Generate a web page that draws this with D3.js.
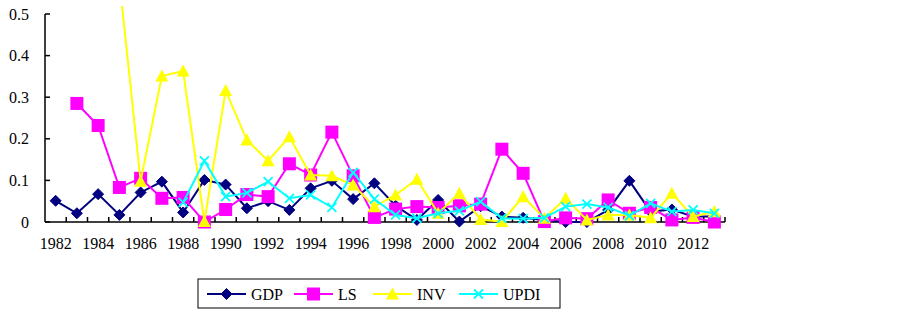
<!DOCTYPE html>
<html>
<head>
<meta charset="utf-8">
<script src="https://cdn.jsdelivr.net/npm/d3@7"></script>
<style>
  body { margin: 0; background: #fff; }
</style>
</head>
<body>
<div id="chart"></div>
<script>
// Years on the category axis
const years = d3.range(1982, 2014);

// Series values (null = no value that year)
const gdp = [0.051, 0.021, 0.067, 0.017, 0.071, 0.097, 0.023, 0.101, 0.090, 0.033,
             0.050, 0.029, 0.081, 0.099, 0.055, 0.093, 0.039, 0.005, 0.053, 0.001,
             0.038, 0.013, 0.010, 0.005, 0.000, 0.000, 0.029, 0.099, 0.025, 0.030,
             0.013, 0.013];
const ls = [null, 0.285, 0.232, 0.083, 0.105, 0.057, 0.059, 0.000, 0.030, 0.066,
            0.061, 0.140, 0.113, 0.216, 0.111, 0.011, 0.031, 0.037, 0.035, 0.039,
            0.043, 0.175, 0.117, 0.001, 0.010, 0.008, 0.053, 0.021, 0.035, 0.005,
            0.011, 0.000];
const inv = [null, null, null, 0.58, 0.098, 0.351, 0.363, 0.001, 0.316, 0.197,
             0.147, 0.205, 0.113, 0.111, 0.089, 0.037, 0.065, 0.103, 0.021, 0.069,
             0.006, 0.001, 0.061, 0.009, 0.057, 0.005, 0.017, 0.017, 0.010, 0.069,
             0.013, 0.025];
const updi = [null, null, null, null, null, null, 0.047, 0.147, 0.061, 0.070,
              0.097, 0.057, 0.065, 0.035, 0.119, 0.055, 0.017, 0.009, 0.021, 0.027,
              0.049, 0.009, 0.008, 0.010, 0.037, 0.043, 0.035, 0.015, 0.045, 0.025,
              0.029, 0.021];

const yTicks = [0, 0.1, 0.2, 0.3, 0.4, 0.5];
const yLabels = ["0", "0.1", "0.2", "0.3", "0.4", "0.5"];

const series = [
  { name: "GDP", values: gdp, color: "#000080", marker: "diamond" },
  { name: "LS", values: ls, color: "#ff00ff", marker: "square" },
  { name: "INV", values: inv, color: "#ffff00", marker: "triangle" },
  { name: "UPDI", values: updi, color: "#00ffff", marker: "cross" }
];

const width = 903, height = 311;
const plotLeft = 45, plotRight = 725, plotTop = 14, plotBottom = 222;
const font = "'Liberation Serif', 'DejaVu Serif', 'Times New Roman', serif";

const svg = d3.select("#chart").append("svg")
    .attr("width", width)
    .attr("height", height)
    .style("font-family", font);

svg.append("rect").attr("width", width).attr("height", height).attr("fill", "#fff");

const x = d3.scaleBand().domain(years).range([plotLeft, plotRight]).padding(0);
const y = d3.scaleLinear().domain([0, 0.5]).range([plotBottom, plotTop]);
const cx = d => x(d) + x.bandwidth() / 2;

// clip so the 1985 INV spike runs off the top
svg.append("clipPath").attr("id", "plot-clip")
  .append("rect").attr("x", plotLeft).attr("y", 6)
  .attr("width", plotRight - plotLeft + 10).attr("height", plotBottom - 6 + 10);

// y axis
const yAxis = svg.append("g");
yAxis.append("line")
    .attr("x1", plotLeft).attr("x2", plotLeft).attr("y1", y(0.5)).attr("y2", y(0))
    .attr("stroke", "#000").attr("stroke-width", 1.5);
yTicks.forEach((t, i) => {
  yAxis.append("line")
      .attr("x1", plotLeft).attr("x2", plotLeft + 5).attr("y1", y(t)).attr("y2", y(t))
      .attr("stroke", "#000").attr("stroke-width", 1.5);
  yAxis.append("text")
      .attr("x", 29).attr("y", y(t)).attr("dy", "0.35em")
      .attr("text-anchor", "end")
      .style("font-family", font)
      .style("font-size", "16px")
      .text(yLabels[i]);
});

// x axis
const xAxis = svg.append("g");
xAxis.append("line")
    .attr("x1", plotLeft).attr("x2", plotRight).attr("y1", plotBottom).attr("y2", plotBottom)
    .attr("stroke", "#000").attr("stroke-width", 1.5);
years.forEach(yr => {
  xAxis.append("line")
      .attr("x1", x(yr) + x.bandwidth()).attr("x2", x(yr) + x.bandwidth())
      .attr("y1", plotBottom).attr("y2", plotBottom - 5)
      .attr("stroke", "#000").attr("stroke-width", 1.5);
  if ((yr - 1982) % 2 === 0) {
    xAxis.append("text")
        .attr("x", cx(yr)).attr("y", 243).attr("dy", "0.35em")
        .attr("text-anchor", "middle")
        .style("font-family", font)
        .style("font-size", "16px")
        .text(yr);
  }
});

// marker shapes
function drawMarker(g, type, color, px, py, s) {
  if (type === "diamond") {
    const r = s || 5.5;
    g.append("path")
        .attr("d", `M${px},${py - r}L${px + r},${py}L${px},${py + r}L${px - r},${py}Z`)
        .attr("fill", color).attr("stroke", color);
  } else if (type === "square") {
    const r = s || 6.5;
    g.append("rect")
        .attr("x", px - r).attr("y", py - r).attr("width", 2 * r).attr("height", 2 * r)
        .attr("fill", color);
  } else if (type === "triangle") {
    const r = s || 6.5;
    g.append("path")
        .attr("d", `M${px},${py - r}L${px + r},${py + r * 0.85}L${px - r},${py + r * 0.85}Z`)
        .attr("fill", color);
  } else {
    const r = s || 4.5;
    g.append("path")
        .attr("d", `M${px - r},${py - r}L${px + r},${py + r}M${px + r},${py - r}L${px - r},${py + r}`)
        .attr("stroke", color).attr("stroke-width", 1.8).attr("fill", "none");
  }
}

// lines and markers
const plot = svg.append("g").attr("clip-path", "url(#plot-clip)");
const line = d3.line()
    .defined(d => d.v !== null)
    .x(d => cx(d.year))
    .y(d => y(d.v));

series.forEach(s => {
  const pts = years.map((yr, i) => ({ year: yr, v: s.values[i] }));
  plot.append("path")
      .datum(pts)
      .attr("d", line)
      .attr("fill", "none")
      .attr("stroke", s.color)
      .attr("stroke-width", 2);
  const mg = plot.append("g");
  pts.filter(d => d.v !== null).forEach(d => drawMarker(mg, s.marker, s.color, cx(d.year), y(d.v)));
});

// legend
const legend = svg.append("g");
legend.append("rect")
    .attr("x", 198).attr("y", 279).attr("width", 362).attr("height", 29)
    .attr("fill", "#fff").attr("stroke", "#000").attr("stroke-width", 1);
const legendX = [207, 294, 373, 459];
series.forEach((s, i) => {
  const lx = legendX[i], ly = 294;
  legend.append("line")
      .attr("x1", lx).attr("x2", lx + 39).attr("y1", ly).attr("y2", ly)
      .attr("stroke", s.color).attr("stroke-width", 2);
  drawMarker(legend, s.marker, s.color, lx + 19.5, ly);
  legend.append("text")
      .attr("x", lx + 44).attr("y", ly).attr("dy", "0.35em")
      .style("font-family", font)
      .style("font-size", "16px")
      .text(s.name);
});
</script>
</body>
</html>
